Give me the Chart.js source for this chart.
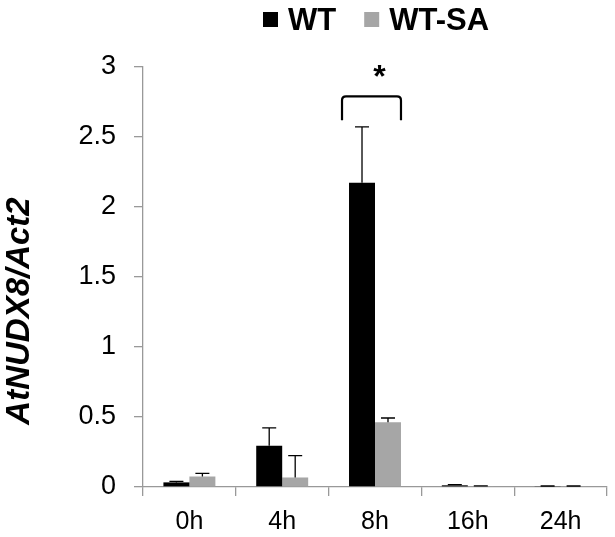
<!DOCTYPE html>
<html>
<head>
<meta charset="utf-8">
<script src="https://cdn.jsdelivr.net/npm/chart.js@4"></script>
<style>
  html, body { margin: 0; padding: 0; background: #fff; }
  #wrap { width: 615px; height: 537px; position: relative; }
</style>
</head>
<body>
<div id="wrap"><canvas id="chart-container"></canvas></div>
<script>
// Datos
const categories = ['0h', '4h', '8h', '16h', '24h'];
const wtValues = [0.033, 0.295, 2.173, 0.012, 0.006];
const wtErrors = [0.007, 0.127, 0.400, 0.005, 0.001];
const saValues = [0.075, 0.068, 0.462, 0.006, 0.006];
const saErrors = [0.022, 0.156, 0.031, 0.002, 0.001];
const yTicks = [0, 0.5, 1, 1.5, 2, 2.5, 3];

// Marca de significancia (categoría 8h)
const sigIndex = 2;
const sigBracket = [2.62, 2.79]; // base y techo del corchete
const sigStarY = 2.98;

const axisColor = '#999999';
const fontFamily = '"Liberation Sans", Arial, sans-serif';

// Barras de error (solo hacia arriba)
const errorBars = {
  id: 'errorBars',
  afterDatasetsDraw(chart) {
    const ctx = chart.ctx;
    const y = chart.scales.y;
    ctx.save();
    ctx.strokeStyle = '#000';
    ctx.lineWidth = 1.3;
    chart.data.datasets.forEach((ds, i) => {
      const meta = chart.getDatasetMeta(i);
      meta.data.forEach((bar, j) => {
        const top = y.getPixelForValue(ds.data[j] + ds.errors[j]);
        ctx.beginPath();
        ctx.moveTo(bar.x, bar.y);
        ctx.lineTo(bar.x, top);
        ctx.moveTo(bar.x - 7, top);
        ctx.lineTo(bar.x + 7, top);
        ctx.stroke();
      });
    });
    ctx.restore();
  }
};

// Corchete y asterisco
const significance = {
  id: 'significance',
  afterDatasetsDraw(chart) {
    const ctx = chart.ctx;
    const y = chart.scales.y;
    const a = chart.getDatasetMeta(0).data[sigIndex];
    const b = chart.getDatasetMeta(1).data[sigIndex];
    const left = a.x - a.width / 2 - 7;
    const right = b.x + b.width / 2;
    const low = y.getPixelForValue(sigBracket[0]);
    const high = y.getPixelForValue(sigBracket[1]);
    ctx.save();
    ctx.strokeStyle = '#000';
    ctx.lineWidth = 2.2;
    ctx.lineJoin = 'round';
    ctx.beginPath();
    ctx.moveTo(left, low);
    ctx.lineTo(left, high + 4);
    ctx.quadraticCurveTo(left, high, left + 4, high);
    ctx.lineTo(right - 4, high);
    ctx.quadraticCurveTo(right, high, right, high + 4);
    ctx.lineTo(right, low);
    ctx.stroke();
    ctx.fillStyle = '#000';
    ctx.font = 'bold 32px ' + fontFamily;
    ctx.textAlign = 'center';
    ctx.textBaseline = 'middle';
    ctx.fillText('*', (left + right) / 2 + 8, y.getPixelForValue(sigStarY) + 8);
    ctx.restore();
  }
};

// Leyenda y título del eje Y dibujados a mano
const extras = {
  id: 'extras',
  afterDraw(chart) {
    const ctx = chart.ctx;
    const area = chart.chartArea;
    ctx.save();
    ctx.font = 'bold 31px ' + fontFamily;
    ctx.textBaseline = 'middle';
    ctx.textAlign = 'left';
    let x = 263;
    chart.data.datasets.forEach((ds) => {
      ctx.fillStyle = ds.backgroundColor;
      ctx.fillRect(x, 12, 15, 15);
      ctx.fillStyle = '#000';
      ctx.fillText(ds.label, x + 25, 21);
      x += 25 + ctx.measureText(ds.label).width + 28;
    });

    ctx.translate(20, (area.top + area.bottom) / 2 + 34);
    ctx.rotate(-Math.PI / 2);
    ctx.textAlign = 'center';
    ctx.font = 'italic bold 33px ' + fontFamily;
    ctx.fillText('AtNUDX8/Act2', 0, 0);
    ctx.restore();
  }
};

const data = {
  labels: categories,
  datasets: [
    { label: 'WT', data: wtValues, errors: wtErrors, backgroundColor: '#000000' },
    { label: 'WT-SA', data: saValues, errors: saErrors, backgroundColor: '#a6a6a6' }
  ]
};

const options = {
  type: 'bar',
  data: data,
  plugins: [errorBars, significance, extras],
  options: {
    responsive: true,
    maintainAspectRatio: false,
    animation: false,
    datasets: { bar: { categoryPercentage: 0.56, barPercentage: 1.0 } },
    layout: { padding: { top: 67, right: 8, left: 0, bottom: 0 } },
    plugins: { legend: { display: false }, tooltip: { enabled: false } },
    scales: {
      x: {
        grid: { offset: true, drawOnChartArea: false, drawTicks: true, tickLength: 9, color: axisColor, lineWidth: 1.3 },
        border: { color: axisColor, width: 1.3 },
        ticks: { color: '#000', font: { family: fontFamily, size: 25 }, padding: 11 },
        afterFit(scale) { scale.height = 50; }
      },
      y: {
        min: 0,
        max: 3,
        grid: { drawOnChartArea: false, drawTicks: true, tickLength: 9, color: axisColor, lineWidth: 1.3 },
        border: { color: axisColor, width: 1.3 },
        ticks: {
          color: '#000',
          font: { family: fontFamily, size: 27 },
          padding: 18,
          callback: (v) => String(v)
        },
        afterBuildTicks(scale) { scale.ticks = yTicks.map(v => ({ value: v })); },
        afterFit(scale) { scale.width = 143; }
      }
    }
  }
};

const ctx = document.getElementById('chart-container').getContext('2d');
window.myChart = new Chart(ctx, options);
</script>
</body>
</html>
